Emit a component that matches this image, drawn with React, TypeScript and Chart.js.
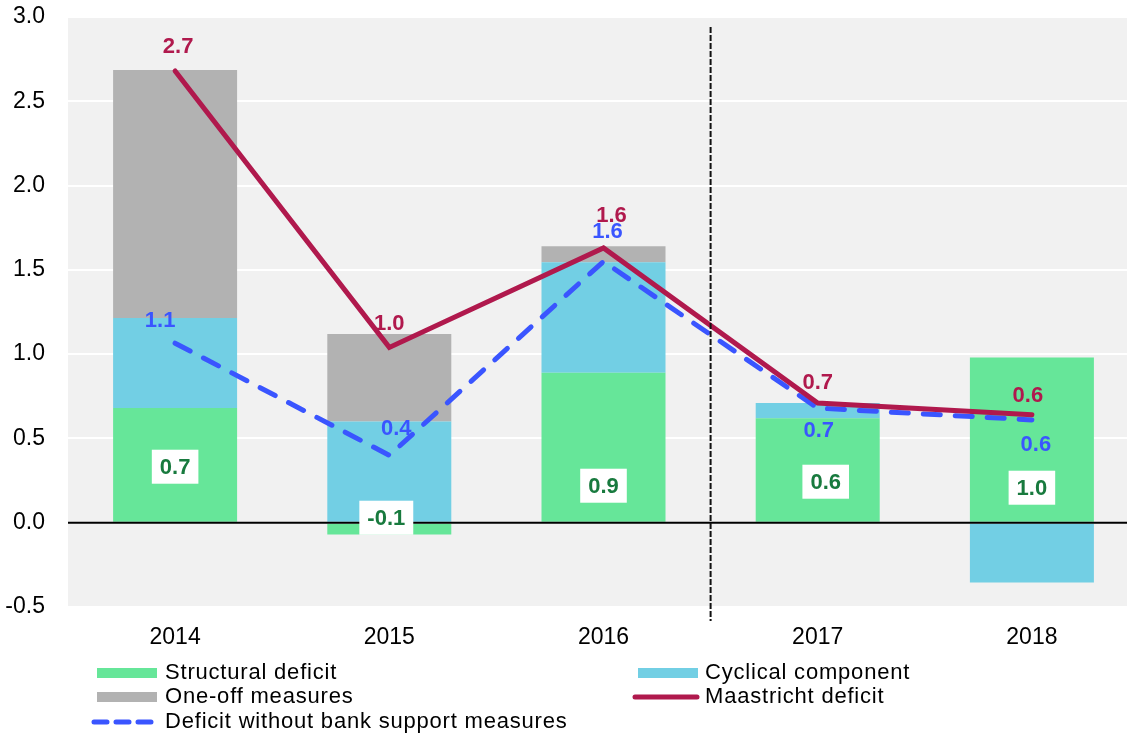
import React, { useEffect, useRef } from "react";
import { Chart, registerables } from "chart.js";

Chart.register(...registerables);

const years = ["2014", "2015", "2016", "2017", "2018"];
const structural = [0.68, -0.07, 0.89, 0.62, 0.98];
const cyclical = [0.535, 0.6, 0.655, 0.09, -0.355];
const oneOff = [1.47, 0.52, 0.095, 0, 0];
const maastricht = [2.68, 1.04, 1.63, 0.71, 0.64];
const withoutBank = [1.065, 0.4, 1.55, 0.68, 0.61];

const seriesNames = [
  "Structural deficit",
  "Cyclical component",
  "One-off measures",
  "Maastricht deficit",
  "Deficit without bank support measures",
];

// label placement (pixel shifts), kept apart from the data
const maastrichtShift = [[3, -24], [0, -23], [8, -32], [0, -20], [-4, -19]];
const bankShift = [[-15, -22], [7, -26], [4, -29], [1, 23], [4, 25]];
const structuralShift = [[0, -56], [-3, -5], [0, -37], [8, -41], [0, -35]];
// legend slots: [column, row] for each dataset
const legendSlots = [[0, 0], [1, 0], [0, 1], [1, 1], [0, 2]];

const FONT = "'Liberation Sans', Arial, Helvetica, sans-serif";
const GREEN = "#66E699";
const CYAN = "#72CFE4";
const GRAY = "#B2B2B2";
const CRIMSON = "#B0194D";
const BLUE = "#3A55FF";
const DARKGREEN = "#187A3E";

const W = 1139;
const H = 735;

const plugin = {
  id: "custom",
  beforeDraw(chart: any) {
    const { ctx, chartArea } = chart;
    ctx.save();
    ctx.fillStyle = "#F1F1F1";
    ctx.fillRect(chartArea.left, chartArea.top, chartArea.right - chartArea.left, chartArea.bottom - chartArea.top);
    ctx.restore();
  },
  afterDatasetsDraw(chart: any) {
    const { ctx, chartArea, scales } = chart;
    const x = scales.x;
    const y = scales.y;
    ctx.save();
    // zero line
    const y0 = y.getPixelForValue(0);
    ctx.strokeStyle = "#000";
    ctx.lineWidth = 2;
    ctx.beginPath();
    ctx.moveTo(chartArea.left, y0);
    ctx.lineTo(chartArea.right, y0);
    ctx.stroke();
    // vertical dashed separator between 2016 and 2017
    const xs = (x.getPixelForValue(2) + x.getPixelForValue(3)) / 2;
    ctx.setLineDash([6, 2]);
    ctx.lineWidth = 2;
    ctx.strokeStyle = "#111";
    ctx.beginPath();
    ctx.moveTo(xs, chartArea.top + 10);
    ctx.lineTo(xs, chartArea.bottom + 14);
    ctx.stroke();
    ctx.setLineDash([]);

    ctx.font = `bold 22px ${FONT}`;
    ctx.textAlign = "center";
    ctx.textBaseline = "middle";
    const mMeta = chart.getDatasetMeta(3);
    const bMeta = chart.getDatasetMeta(4);
    for (let i = 0; i < years.length; i++) {
      // structural labels in white boxes
      const cx = x.getPixelForValue(i) + structuralShift[i][0];
      const cy = y0 + structuralShift[i][1];
      const t = structural[i].toFixed(1);
      const tw = ctx.measureText(t).width;
      ctx.fillStyle = "#fff";
      ctx.fillRect(cx - tw / 2 - 8, cy - 17, tw + 16, 34);
      ctx.fillStyle = DARKGREEN;
      ctx.fillText(t, cx, cy + 1);
      // blue labels
      const bp = bMeta.data[i];
      ctx.fillStyle = BLUE;
      ctx.fillText(withoutBank[i].toFixed(1), bp.x + bankShift[i][0], bp.y + bankShift[i][1]);
      // maastricht labels
      const mp = mMeta.data[i];
      ctx.fillStyle = CRIMSON;
      ctx.fillText(maastricht[i].toFixed(1), mp.x + maastrichtShift[i][0], mp.y + maastrichtShift[i][1]);
    }
    ctx.restore();
  },
  afterDraw(chart: any) {
    const { ctx } = chart;
    const boxX = [97, 638];
    const textX = [165, 705];
    const rowY = [673, 697, 722];
    ctx.save();
    ctx.font = `22px ${FONT}`;
    (ctx as any).letterSpacing = "0.8px";
    ctx.textBaseline = "middle";
    ctx.textAlign = "left";
    chart.data.datasets.forEach((ds: any, i: number) => {
      const [c, r] = legendSlots[i];
      const yy = rowY[r];
      if (ds.type === "line") {
        ctx.strokeStyle = ds.borderColor;
        ctx.lineWidth = 5;
        ctx.lineCap = "round";
        ctx.setLineDash(ds.borderDash ? [13, 9] : []);
        ctx.beginPath();
        ctx.moveTo(boxX[c] - 3, yy);
        ctx.lineTo(boxX[c] + 59, yy);
        ctx.stroke();
        ctx.setLineDash([]);
      } else {
        ctx.fillStyle = ds.backgroundColor;
        ctx.fillRect(boxX[c], yy - 5, 60, 10);
      }
      ctx.fillStyle = "#000";
      ctx.fillText(ds.label, textX[c], yy);
    });
    ctx.restore();
  },
};

export default function App() {
  const ref = useRef<HTMLCanvasElement | null>(null);
  useEffect(() => {
    if (!ref.current) return;
    const barPct = 124 / 214.2;
    const chart = new Chart(ref.current, {
      type: "bar",
      data: {
        labels: years,
        datasets: [
          { type: "bar", label: seriesNames[0], data: structural, backgroundColor: GREEN, stack: "bars", order: 3, categoryPercentage: 1, barPercentage: barPct },
          { type: "bar", label: seriesNames[1], data: cyclical, backgroundColor: CYAN, stack: "bars", order: 3, categoryPercentage: 1, barPercentage: barPct },
          { type: "bar", label: seriesNames[2], data: oneOff, backgroundColor: GRAY, stack: "bars", order: 3, categoryPercentage: 1, barPercentage: barPct },
          { type: "line", label: seriesNames[3], data: maastricht, borderColor: CRIMSON, backgroundColor: CRIMSON, borderWidth: 5, pointRadius: 0, stack: "m", order: 1, tension: 0, borderCapStyle: "round", borderJoinStyle: "miter" },
          { type: "line", label: seriesNames[4], data: withoutBank, borderColor: BLUE, backgroundColor: BLUE, borderWidth: 5, pointRadius: 0, stack: "b", order: 2, tension: 0, borderDash: [17, 15], borderCapStyle: "round" },
        ] as any,
      },
      options: {
        responsive: false,
        animation: false,
        devicePixelRatio: 1,
        layout: { padding: { top: 17, left: 0, right: 0, bottom: 0 } },
        plugins: { legend: { display: false }, tooltip: { enabled: false } },
        scales: {
          x: {
            stacked: true,
            grid: { display: false, drawTicks: false },
            border: { display: false },
            ticks: { padding: 17, color: "#000", font: { family: FONT, size: 23 } },
            afterFit: (s: any) => { s.height = 128; s.paddingLeft = 0; s.paddingRight = 0; },
          },
          y: {
            stacked: true,
            min: -0.5,
            max: 3,
            ticks: { stepSize: 0.5, padding: 23, color: "#000", font: { family: FONT, size: 23 }, callback: (v: any) => Number(v).toFixed(1) },
            grid: { color: (c: any) => (c.tick && c.tick.value === 0 ? "rgba(0,0,0,0)" : "#FFFFFF"), lineWidth: 2, drawTicks: false },
            border: { display: false },
            afterFit: (s: any) => { s.width = 68; s.paddingTop = 0; s.paddingBottom = 0; },
          },
        },
      } as any,
      plugins: [plugin],
    });
    return () => chart.destroy();
  }, []);
  return (
    <div style={{ position: "fixed", left: 0, top: 0, width: W, height: H, background: "#fff" }}>
      <canvas ref={ref} width={W} height={H} style={{ width: W, height: H, display: "block" }} />
    </div>
  );
}
